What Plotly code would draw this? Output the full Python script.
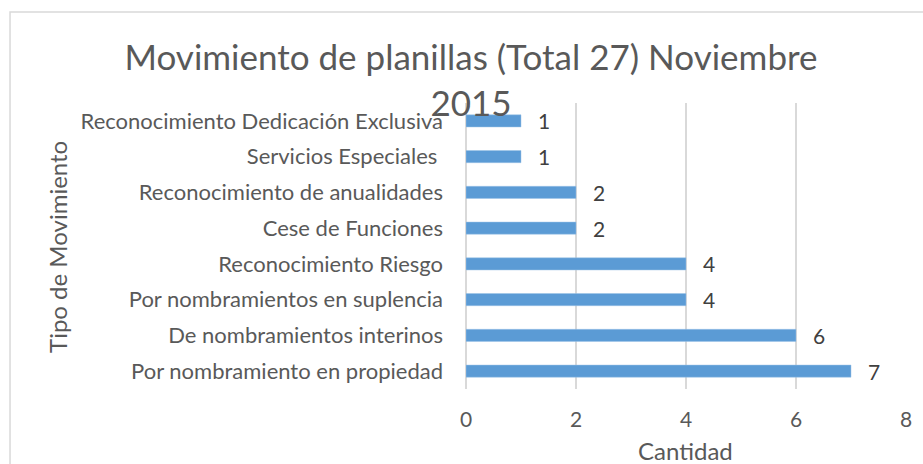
import plotly.graph_objects as go

categories = [
    "Por nombramiento en propiedad",
    "De nombramientos interinos",
    "Por nombramientos en suplencia",
    "Reconocimiento Riesgo",
    "Cese de Funciones",
    "Reconocimiento de anualidades",
    "Servicios Especiales ",
    "Reconocimiento Dedicación Exclusiva",
]
values = [7, 6, 4, 4, 2, 2, 1, 1]
x_ticks = [0, 2, 4, 6, 8]

FONT = "Lato, Open Sans, DejaVu Sans, sans-serif"
TXT = "#595959"

W, H = 923, 464
L, R, T, B = 465.5, 17, 103, 75
pw, ph = W - L - R, H - T - B

def px_x(p):
    return (p - L) / pw

def px_y(p):
    return 1 - (p - T) / ph

fig = go.Figure()
fig.add_trace(go.Bar(
    x=values, y=categories, orientation="h",
    marker=dict(color="#5B9BD5", line=dict(color="#9DC3E6", width=0.5)),
    width=0.34, hoverinfo="x+y",
))

for c, v in zip(categories, values):
    fig.add_annotation(x=v, y=c, xref="x", yref="y", text=str(v), showarrow=False,
                       xanchor="center", xshift=23, font=dict(family=FONT, size=21, color="#404040"))

fig.add_annotation(x=px_x(56), y=px_y(247), xref="paper", yref="paper", text="Tipo de Movimiento",
                   textangle=-90, showarrow=False, xanchor="center", yanchor="middle",
                   font=dict(family=FONT, size=24, color=TXT))
fig.add_annotation(x=px_x(685), y=px_y(450), xref="paper", yref="paper", text="Cantidad",
                   showarrow=False, xanchor="center", yanchor="middle",
                   font=dict(family=FONT, size=24, color=TXT))

fig.add_shape(type="rect", xref="paper", yref="paper",
              x0=px_x(9), x1=px_x(960), y0=px_y(500), y1=px_y(12),
              line=dict(color="#D9D9D9", width=1.5), layer="below")

fig.update_layout(
    width=W, height=H,
    margin=dict(l=L, r=R, t=T, b=B, pad=0),
    paper_bgcolor="white", plot_bgcolor="white",
    showlegend=False,
    title=dict(text="Movimiento de planillas (Total 27) Noviembre<br>2015",
               x=471 / W, xanchor="center", y=1 - 70 / H, yanchor="middle",
               font=dict(family=FONT, size=35, color=TXT)),
    xaxis=dict(range=[0, 8], tickvals=x_ticks, showgrid=True, gridcolor="#D9D9D9", gridwidth=1.5,
               zeroline=True, zerolinecolor="#D9D9D9", zerolinewidth=1.5, showline=False,
               ticks="", ticklabelstandoff=16, tickfont=dict(family=FONT, size=21, color=TXT)),
    yaxis=dict(categoryorder="array", categoryarray=categories, showgrid=False,
               ticks="", ticklabelstandoff=22, tickfont=dict(family=FONT, size=22, color=TXT)),
)

fig.write_html("out.html", config={"displayModeBar": False},
               post_script="document.body.style.margin='0';document.body.style.overflow='hidden';")
